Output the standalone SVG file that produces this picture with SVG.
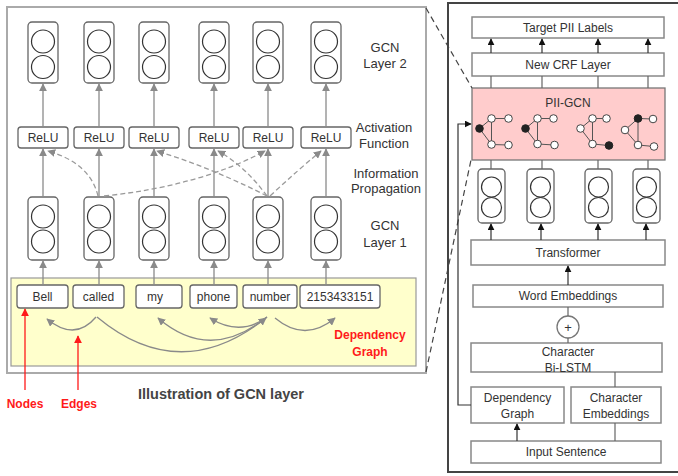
<svg xmlns="http://www.w3.org/2000/svg" width="678" height="476" viewBox="0 0 678 476">
<style>
text{font-family:"Liberation Sans",Arial,sans-serif;fill:#333}
.t12{font-size:12px}
.t13{font-size:13px}
.lbl{font-size:13px;text-anchor:middle}
.mid{text-anchor:middle}
.red{fill:#ff1a1a;font-weight:bold;font-size:12px;text-anchor:middle}
.nb{fill:#fff;stroke:#666;stroke-width:1.3}
.cir{fill:#fff;stroke:#333;stroke-width:1.2}
.rbox{fill:#fff;stroke:#888;stroke-width:1.5}
.ga{stroke:#8a8a8a;stroke-width:1.3;fill:none}
.gd{stroke:#9a9a9a;stroke-width:1.3;fill:none;stroke-dasharray:5 3}
.ba{stroke:#333;stroke-width:1.2;fill:none}
.dk{stroke:#444;stroke-width:1.2;fill:none;stroke-dasharray:6 4}
.ge{stroke:#555;stroke-width:1;fill:none}
.gw{fill:#fff;stroke:#444;stroke-width:1}
.gb{fill:#222;stroke:#222;stroke-width:1}
</style>
<defs>
<marker id="ag" viewBox="0 0 10 10" refX="9" refY="5" markerWidth="8" markerHeight="8" markerUnits="userSpaceOnUse" orient="auto"><path d="M0,0 L10,5 L0,10 z" fill="#8a8a8a"/></marker>
<marker id="ab" viewBox="0 0 10 10" refX="9" refY="5" markerWidth="7" markerHeight="7" markerUnits="userSpaceOnUse" orient="auto"><path d="M0,0 L10,5 L0,10 z" fill="#111"/></marker>
<marker id="ar" viewBox="0 0 10 10" refX="9" refY="5" markerWidth="8" markerHeight="8" markerUnits="userSpaceOnUse" orient="auto"><path d="M0,0 L10,5 L0,10 z" fill="#ff1a1a"/></marker>
</defs>

<!-- Left panel frame -->
<g id="gcn-panel">
<rect x="7" y="7" width="419" height="366" fill="#fff" stroke="#aaa" stroke-width="2"/>
<rect x="11" y="278" width="405" height="88" fill="#ffffcc" stroke="#999" stroke-width="1.2"/>
</g>

<!-- GCN layer 2 nodes -->
<g id="l2-1"><rect class="nb" x="28" y="22" width="30" height="61" rx="4"/><circle class="cir" cx="43" cy="41.5" r="11.5"/><circle class="cir" cx="43" cy="67" r="11.5"/></g>
<g id="l2-2"><rect class="nb" x="84" y="22" width="30" height="61" rx="4"/><circle class="cir" cx="99" cy="41.5" r="11.5"/><circle class="cir" cx="99" cy="67" r="11.5"/></g>
<g id="l2-3"><rect class="nb" x="139" y="22" width="30" height="61" rx="4"/><circle class="cir" cx="154" cy="41.5" r="11.5"/><circle class="cir" cx="154" cy="67" r="11.5"/></g>
<g id="l2-4"><rect class="nb" x="199" y="22" width="30" height="61" rx="4"/><circle class="cir" cx="214" cy="41.5" r="11.5"/><circle class="cir" cx="214" cy="67" r="11.5"/></g>
<g id="l2-5"><rect class="nb" x="253" y="22" width="30" height="61" rx="4"/><circle class="cir" cx="268" cy="41.5" r="11.5"/><circle class="cir" cx="268" cy="67" r="11.5"/></g>
<g id="l2-6"><rect class="nb" x="311" y="22" width="30" height="61" rx="4"/><circle class="cir" cx="326" cy="41.5" r="11.5"/><circle class="cir" cx="326" cy="67" r="11.5"/></g>

<!-- ReLU nodes -->
<g id="relu-1"><rect class="nb" x="18" y="127" width="50" height="21" rx="3"/><text class="t12 mid" x="43" y="142">ReLU</text></g>
<g id="relu-2"><rect class="nb" x="74" y="127" width="50" height="21" rx="3"/><text class="t12 mid" x="99" y="142">ReLU</text></g>
<g id="relu-3"><rect class="nb" x="129" y="127" width="50" height="21" rx="3"/><text class="t12 mid" x="154" y="142">ReLU</text></g>
<g id="relu-4"><rect class="nb" x="189" y="127" width="50" height="21" rx="3"/><text class="t12 mid" x="214" y="142">ReLU</text></g>
<g id="relu-5"><rect class="nb" x="243" y="127" width="50" height="21" rx="3"/><text class="t12 mid" x="268" y="142">ReLU</text></g>
<g id="relu-6"><rect class="nb" x="301" y="127" width="50" height="21" rx="3"/><text class="t12 mid" x="326" y="142">ReLU</text></g>

<!-- GCN layer 1 nodes -->
<g id="l1-1"><rect class="nb" x="28" y="197" width="30" height="63" rx="4"/><circle class="cir" cx="43" cy="216.5" r="11.5"/><circle class="cir" cx="43" cy="241.5" r="11.5"/></g>
<g id="l1-2"><rect class="nb" x="84" y="197" width="30" height="63" rx="4"/><circle class="cir" cx="99" cy="216.5" r="11.5"/><circle class="cir" cx="99" cy="241.5" r="11.5"/></g>
<g id="l1-3"><rect class="nb" x="139" y="197" width="30" height="63" rx="4"/><circle class="cir" cx="154" cy="216.5" r="11.5"/><circle class="cir" cx="154" cy="241.5" r="11.5"/></g>
<g id="l1-4"><rect class="nb" x="199" y="197" width="30" height="63" rx="4"/><circle class="cir" cx="214" cy="216.5" r="11.5"/><circle class="cir" cx="214" cy="241.5" r="11.5"/></g>
<g id="l1-5"><rect class="nb" x="253" y="197" width="30" height="63" rx="4"/><circle class="cir" cx="268" cy="216.5" r="11.5"/><circle class="cir" cx="268" cy="241.5" r="11.5"/></g>
<g id="l1-6"><rect class="nb" x="311" y="197" width="30" height="63" rx="4"/><circle class="cir" cx="326" cy="216.5" r="11.5"/><circle class="cir" cx="326" cy="241.5" r="11.5"/></g>

<!-- Word nodes -->
<g id="w-bell"><rect class="nb" x="17" y="285" width="51" height="23" rx="3"/><text class="t12 mid" x="42.5" y="301">Bell</text></g>
<g id="w-called"><rect class="nb" x="73" y="285" width="51" height="23" rx="3"/><text class="t12 mid" x="98.5" y="301">called</text></g>
<g id="w-my"><rect class="nb" x="136" y="285" width="46" height="23" rx="3"/><text class="t12 mid" x="155" y="301">my</text></g>
<g id="w-phone"><rect class="nb" x="190" y="285" width="47" height="23" rx="3"/><text class="t12 mid" x="213.5" y="301">phone</text></g>
<g id="w-number"><rect class="nb" x="243" y="285" width="54" height="23" rx="3"/><text class="t12 mid" x="270" y="301">number</text></g>
<g id="w-digits"><rect class="nb" x="300" y="285" width="80" height="23" rx="3"/><text class="t12 mid" x="340" y="301">2153433151</text></g>

<!-- Left labels -->
<g id="left-labels">
<text class="lbl" x="385" y="52">GCN</text>
<text class="lbl" x="385" y="68">Layer 2</text>
<text class="lbl" x="384" y="132">Activation</text>
<text class="lbl" x="384" y="148">Function</text>
<text class="lbl" x="386" y="178">Information</text>
<text class="lbl" x="386" y="193">Propagation</text>
<text class="lbl" x="385" y="230">GCN</text>
<text class="lbl" x="385" y="247">Layer 1</text>
<text class="red" x="370" y="339">Dependency</text>
<text class="red" x="370" y="356">Graph</text>
<text class="red" x="25" y="408">Nodes</text>
<text class="red" x="79" y="408">Edges</text>
<text x="221" y="399" style="font-size:14.5px;font-weight:bold;fill:#444;text-anchor:middle">Illustration of GCN layer</text>
</g>

<!-- Right panel -->
<g id="model-panel"><rect x="448" y="3" width="240" height="469" fill="#fff" stroke="#444" stroke-width="2"/></g>
<g id="target"><rect class="rbox" x="472" y="17" width="192" height="21"/><text class="t12 mid" x="568" y="32">Target PII Labels</text></g>
<g id="crf"><rect class="rbox" x="472" y="53" width="192" height="23"/><text class="t12 mid" x="568" y="69">New CRF Layer</text></g>
<g id="pii-gcn">
<rect x="472" y="88" width="193" height="72" fill="#ffcccc" stroke="#777" stroke-width="1.3"/>
<text class="t12 mid" x="568" y="107">PII-GCN</text>
<g>
<path class="ge" d="M479.5,128.5 L491.5,118.5 L508.5,118.5 M491.5,118.5 L491.5,144.5 L508.5,145 M479.5,128.5 L491.5,144.5"/>
<circle class="gb" cx="479.5" cy="128.5" r="3.8"/><circle class="gw" cx="491.5" cy="118.5" r="3.8"/><circle class="gw" cx="508.5" cy="118.5" r="3.8"/><circle class="gw" cx="491.5" cy="144.5" r="3.8"/><circle class="gw" cx="508.5" cy="145" r="3.8"/>
</g>
<g>
<path class="ge" d="M525.5,128.5 L537.5,118.5 L553.5,118.5 M537.5,118.5 L537.5,144 L554.5,145 M525.5,128.5 L537.5,144"/>
<circle class="gb" cx="525.5" cy="128.5" r="3.8"/><circle class="gw" cx="537.5" cy="118.5" r="3.8"/><circle class="gw" cx="553.5" cy="118.5" r="3.8"/><circle class="gw" cx="537.5" cy="144" r="3.8"/><circle class="gw" cx="554.5" cy="145" r="3.8"/>
</g>
<g>
<path class="ge" d="M580.5,128.5 L592.5,118.5 L606.5,118.5 M592.5,118.5 L592.5,144 L609,145.5 M580.5,128.5 L592.5,144"/>
<circle class="gw" cx="580.5" cy="128.5" r="3.8"/><circle class="gw" cx="592.5" cy="118.5" r="3.8"/><circle class="gw" cx="606.5" cy="118.5" r="3.8"/><circle class="gw" cx="592.5" cy="144" r="3.8"/><circle class="gb" cx="609" cy="145.5" r="3.8"/>
</g>
<g>
<path class="ge" d="M625,130 L638,118.5 L653,119 M638,118.5 L638,145 L654,146.5 M625,130 L638,145"/>
<circle class="gw" cx="625" cy="130" r="3.8"/><circle class="gb" cx="638" cy="118.5" r="3.8"/><circle class="gw" cx="653" cy="119" r="3.8"/><circle class="gw" cx="638" cy="145" r="3.8"/><circle class="gw" cx="654" cy="146.5" r="3.8"/>
</g>
</g>
<g id="enc-1"><rect class="nb" x="478" y="169" width="27" height="54" rx="4"/><circle class="cir" cx="491.5" cy="187" r="10"/><circle class="cir" cx="491.5" cy="207.5" r="10"/></g>
<g id="enc-2"><rect class="nb" x="527" y="169" width="27" height="54" rx="4"/><circle class="cir" cx="540.5" cy="187" r="10"/><circle class="cir" cx="540.5" cy="207.5" r="10"/></g>
<g id="enc-3"><rect class="nb" x="585" y="169" width="27" height="54" rx="4"/><circle class="cir" cx="598.5" cy="187" r="10"/><circle class="cir" cx="598.5" cy="207.5" r="10"/></g>
<g id="enc-4"><rect class="nb" x="633" y="169" width="27" height="54" rx="4"/><circle class="cir" cx="646.5" cy="187" r="10"/><circle class="cir" cx="646.5" cy="207.5" r="10"/></g>
<g id="transformer"><rect class="rbox" x="471" y="240" width="194" height="25"/><text class="t12 mid" x="568" y="257">Transformer</text></g>
<g id="word-emb"><rect class="rbox" x="473" y="285" width="190" height="22"/><text class="t12 mid" x="568" y="300">Word Embeddings</text></g>
<g id="plus"><circle cx="568" cy="327" r="11" fill="#fff" stroke="#777" stroke-width="1.3"/><text class="t13 mid" x="568" y="332">+</text></g>
<g id="char-lstm"><rect class="rbox" x="471" y="343" width="191" height="29"/><text class="t12 mid" x="568" y="356">Character</text><text class="t12 mid" x="568" y="372">Bi-LSTM</text></g>
<g id="dep-graph"><rect class="rbox" x="471" y="387" width="93" height="36"/><text class="t12 mid" x="517.5" y="402">Dependency</text><text class="t12 mid" x="517.5" y="418">Graph</text></g>
<g id="char-emb"><rect class="rbox" x="571" y="387" width="90" height="36"/><text class="t12 mid" x="616" y="402">Character</text><text class="t12 mid" x="616" y="418">Embeddings</text></g>
<g id="input"><rect class="rbox" x="471" y="441" width="190" height="22"/><text class="t12 mid" x="566" y="456">Input Sentence</text></g>

<!-- Connectors -->
<g id="connectors">
<!-- layer1 -> ReLU -->
<line class="ga" x1="43" y1="197" x2="43" y2="149" marker-end="url(#ag)"/>
<line class="ga" x1="99" y1="197" x2="99" y2="149" marker-end="url(#ag)"/>
<line class="ga" x1="154" y1="197" x2="154" y2="149" marker-end="url(#ag)"/>
<line class="ga" x1="214" y1="197" x2="214" y2="149" marker-end="url(#ag)"/>
<line class="ga" x1="268" y1="197" x2="268" y2="149" marker-end="url(#ag)"/>
<line class="ga" x1="326" y1="197" x2="326" y2="149" marker-end="url(#ag)"/>
<!-- ReLU -> layer2 -->
<line class="ga" x1="43" y1="127" x2="43" y2="84" marker-end="url(#ag)"/>
<line class="ga" x1="99" y1="127" x2="99" y2="84" marker-end="url(#ag)"/>
<line class="ga" x1="154" y1="127" x2="154" y2="84" marker-end="url(#ag)"/>
<line class="ga" x1="214" y1="127" x2="214" y2="84" marker-end="url(#ag)"/>
<line class="ga" x1="268" y1="127" x2="268" y2="84" marker-end="url(#ag)"/>
<line class="ga" x1="326" y1="127" x2="326" y2="84" marker-end="url(#ag)"/>
<!-- words -> layer1 -->
<line class="ga" x1="43" y1="285" x2="43" y2="261" marker-end="url(#ag)"/>
<line class="ga" x1="99" y1="285" x2="99" y2="261" marker-end="url(#ag)"/>
<line class="ga" x1="154" y1="285" x2="154" y2="261" marker-end="url(#ag)"/>
<line class="ga" x1="214" y1="285" x2="214" y2="261" marker-end="url(#ag)"/>
<line class="ga" x1="268" y1="285" x2="268" y2="261" marker-end="url(#ag)"/>
<line class="ga" x1="326" y1="285" x2="326" y2="261" marker-end="url(#ag)"/>
<!-- information propagation (dashed) -->
<path class="gd" d="M98,196 Q90,163 48,151" marker-end="url(#ag)"/>
<path class="gd" d="M104,196 Q200,186 265,151" marker-end="url(#ag)"/>
<path class="gd" d="M267,196 Q212,168 157,151" marker-end="url(#ag)"/>
<path class="gd" d="M267,196 Q245,166 218,151" marker-end="url(#ag)"/>
<path class="gd" d="M270,196 Q298,170 321,151" marker-end="url(#ag)"/>
<!-- dependency arcs -->
<path class="ga" d="M96,317 Q75,342 47,319" marker-end="url(#ag)"/>
<path class="ga" d="M97,317 Q180,386 266,318" marker-end="url(#ag)"/>
<path class="ga" d="M267,317 Q210,363 158,318" marker-end="url(#ag)"/>
<path class="ga" d="M267,317 Q240,337 210,318" marker-end="url(#ag)"/>
<path class="ga" d="M275,318 Q305,343 335,318" marker-end="url(#ag)"/>
<!-- red annotation arrows -->
<line x1="25" y1="390" x2="25" y2="309" stroke="#ff1a1a" stroke-width="1.3" marker-end="url(#ar)"/>
<line x1="78" y1="390" x2="78" y2="336" stroke="#ff1a1a" stroke-width="1.3" marker-end="url(#ar)"/>
<!-- zoom dashed lines -->
<line class="dk" x1="426" y1="8" x2="472" y2="88"/>
<line class="dk" x1="426" y1="372" x2="471" y2="160"/>
<!-- right panel -->
<line class="ba" x1="491" y1="53" x2="491" y2="39" marker-end="url(#ab)"/>
<line class="ba" x1="542" y1="53" x2="542" y2="39" marker-end="url(#ab)"/>
<line class="ba" x1="598" y1="53" x2="598" y2="39" marker-end="url(#ab)"/>
<line class="ba" x1="648" y1="53" x2="648" y2="39" marker-end="url(#ab)"/>
<path d="M491,88 V76 M542,88 V76 M598,88 V76 M648,88 V76 M491,169 V160 M542,169 V160 M598,169 V160 M648,169 V160" stroke="#666" stroke-width="1.2" fill="none"/>
<line class="ba" x1="491" y1="240" x2="491" y2="224" marker-end="url(#ab)"/>
<line class="ba" x1="541" y1="240" x2="541" y2="224" marker-end="url(#ab)"/>
<line class="ba" x1="598" y1="240" x2="598" y2="224" marker-end="url(#ab)"/>
<line class="ba" x1="646" y1="240" x2="646" y2="224" marker-end="url(#ab)"/>
<line class="ba" x1="568" y1="285" x2="568" y2="266" marker-end="url(#ab)"/>
<path d="M568,307 V316 M568,338 V343 M615,372 V387 M615,423 V441" stroke="#666" stroke-width="1.2" fill="none"/>
<line class="ba" x1="517" y1="441" x2="517" y2="424" marker-end="url(#ab)"/>
<polyline class="ba" points="471,405 458,405 458,124 471,124" marker-end="url(#ab)"/>
</g>
</svg>
